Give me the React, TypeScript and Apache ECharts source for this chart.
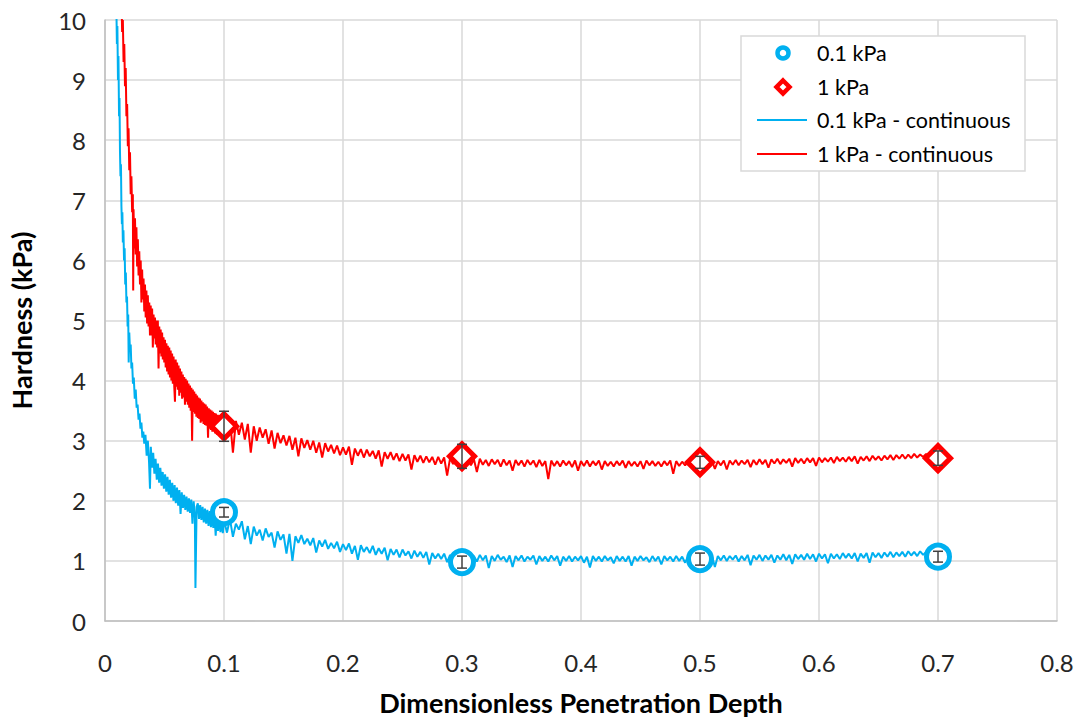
import React, { useEffect, useRef } from "react";
import * as echarts from "echarts";

const FONT = "Lato, 'Noto Sans', sans-serif";
const BLUE = "#00B0F0";
const RED = "#FF0000";

const xTickMin = 0;
const xTickMax = 0.8;
const xTickStep = 0.1;
const yTickMin = 0;
const yTickMax = 10;
const yTickStep = 1;

const markerX = [0.1, 0.3, 0.5, 0.7];
const blueMarkerY = [1.81, 0.98, 1.03, 1.07];
const blueMarkerErr = [0.08, 0.1, 0.1, 0.09];
const redMarkerY = [3.24, 2.74, 2.64, 2.71];
const redMarkerErr = [0.25, 0.2, 0.1, 0.12];

const blueContinuous: [number, number][] = [
  [0.0095, 10.3], [0.01, 9.6], [0.0104, 9.9], [0.0109, 9.0], [0.0113, 9.4], [0.0118, 8.4], [0.0122, 8.7],
  [0.0126, 7.8], [0.013, 7.4], [0.0134, 7.6], [0.0138, 6.9], [0.0142, 6.6], [0.0146, 6.8], [0.015, 6.3],
  [0.0155, 6.5], [0.016, 6.0], [0.0165, 6.2], [0.017, 5.6], [0.0175, 5.8], [0.018, 5.3], [0.0185, 5.4],
  [0.019, 4.9], [0.0195, 5.1], [0.0199, 4.3], [0.0204, 4.8], [0.021, 4.5], [0.0216, 4.6], [0.0222, 4.2],
  [0.0228, 4.3], [0.0235, 3.95], [0.0242, 4.05], [0.025, 3.7], [0.0258, 3.85], [0.0266, 3.55], [0.0274, 3.6],
  [0.0282, 3.35], [0.029, 3.45], [0.0298, 3.2], [0.0306, 3.3], [0.0314, 3.05], [0.0322, 3.15], [0.033, 2.95],
  [0.034, 3.1], [0.035, 2.75], [0.036, 3.0], [0.037, 2.65], [0.0378, 2.2], [0.0385, 2.9], [0.0395, 2.55],
  [0.0405, 2.8], [0.0415, 2.45], [0.0425, 2.7], [0.0435, 2.35], [0.0445, 2.62], [0.0455, 2.3], [0.0465, 2.55],
  [0.0475, 2.25], [0.0485, 2.48], [0.0495, 2.2], [0.0505, 2.44], [0.0515, 2.15], [0.0525, 2.4], [0.0535, 2.1],
  [0.0545, 2.35], [0.0555, 2.05], [0.0565, 2.3], [0.0575, 2.0], [0.0585, 2.26], [0.0595, 1.96], [0.0605, 2.22],
  [0.0615, 1.92], [0.0625, 2.18], [0.0635, 1.78], [0.0645, 2.14], [0.0655, 1.88], [0.0665, 2.1], [0.0675, 1.85],
  [0.0685, 2.07], [0.0695, 1.82], [0.0705, 2.04], [0.0715, 1.8], [0.0725, 2.02], [0.0735, 1.62], [0.0745, 1.99],
  [0.0755, 1.75], [0.076, 0.55], [0.077, 1.9], [0.078, 1.96], [0.079, 1.7], [0.08, 1.93], [0.081, 1.68],
  [0.082, 1.9], [0.083, 1.64], [0.084, 1.87], [0.085, 1.62], [0.086, 1.85], [0.087, 1.58], [0.088, 1.83],
  [0.089, 1.56], [0.09, 1.8], [0.091, 1.55], [0.092, 1.77], [0.093, 1.42], [0.094, 1.75], [0.095, 1.5],
  [0.096, 1.73], [0.097, 1.48], [0.098, 1.71], [0.099, 1.46],
  [0.1, 1.68], [0.1025, 1.47], [0.105, 1.7], [0.1075, 1.4], [0.11, 1.62], [0.1125, 1.52], [0.115, 1.66],
  [0.1175, 1.36], [0.12, 1.58], [0.1225, 1.28], [0.125, 1.57], [0.1275, 1.42], [0.13, 1.52], [0.1325, 1.34],
  [0.135, 1.54], [0.1375, 1.4], [0.14, 1.47], [0.1425, 1.22], [0.145, 1.49], [0.1475, 1.35], [0.15, 1.44],
  [0.1525, 1.12], [0.155, 1.45], [0.1575, 1.0], [0.16, 1.41], [0.1625, 1.3], [0.165, 1.43], [0.1675, 1.28],
  [0.17, 1.37], [0.1725, 1.26], [0.175, 1.38], [0.1775, 1.14], [0.18, 1.34], [0.1825, 1.24], [0.185, 1.35],
  [0.1875, 1.2], [0.19, 1.3], [0.1925, 1.21], [0.195, 1.32], [0.1975, 1.15], [0.2, 1.28], [0.2025, 1.18],
  [0.205, 1.29], [0.2075, 1.12], [0.21, 1.25], [0.2125, 1.02], [0.215, 1.26], [0.2175, 1.15], [0.22, 1.23],
  [0.2225, 1.13], [0.225, 1.25], [0.2275, 1.1], [0.23, 1.21], [0.2325, 1.12], [0.235, 1.22], [0.2375, 1.01],
  [0.24, 1.2], [0.2425, 1.1], [0.245, 1.19], [0.2475, 1.06], [0.25, 1.19], [0.2525, 1.09], [0.255, 1.16],
  [0.2575, 1.04], [0.26, 1.17], [0.2625, 1.07], [0.265, 1.15], [0.2675, 1.05], [0.27, 1.15], [0.2725, 0.94],
  [0.275, 1.13], [0.2775, 1.04], [0.28, 1.12], [0.2825, 1.03], [0.285, 1.12], [0.2875, 0.98], [0.29, 1.1],
  [0.2925, 0.88], [0.295, 1.11], [0.2975, 1.01], [0.3, 1.09],
  [0.3025, 1.0], [0.305, 1.1], [0.3075, 1.02], [0.31, 1.08], [0.3125, 0.99], [0.315, 1.1], [0.3175, 1.01],
  [0.32, 1.09], [0.3225, 0.88], [0.325, 1.08], [0.3275, 1.0], [0.33, 1.1], [0.3325, 1.02], [0.335, 1.07],
  [0.3375, 0.98], [0.34, 1.09], [0.3425, 0.9], [0.345, 1.08], [0.3475, 1.01], [0.35, 1.09], [0.3525, 0.99],
  [0.355, 1.07], [0.3575, 1.02], [0.36, 1.09], [0.3625, 0.94], [0.365, 1.08], [0.3675, 1.0], [0.37, 1.07],
  [0.3725, 0.99], [0.375, 1.09], [0.3775, 1.01], [0.38, 1.08], [0.3825, 0.92], [0.385, 1.07], [0.3875, 1.0],
  [0.39, 1.08], [0.3925, 0.99], [0.395, 1.07], [0.3975, 1.01], [0.4, 1.08], [0.4025, 0.97], [0.405, 1.07],
  [0.4075, 0.89], [0.41, 1.08], [0.4125, 1.0], [0.415, 1.07], [0.4175, 0.99], [0.42, 1.08], [0.4225, 1.01],
  [0.425, 1.06], [0.4275, 0.96], [0.43, 1.08], [0.4325, 1.0], [0.435, 1.07], [0.4375, 0.99], [0.44, 1.08],
  [0.4425, 0.92], [0.445, 1.07], [0.4475, 1.0], [0.45, 1.08], [0.4525, 1.01], [0.455, 1.06], [0.4575, 0.98],
  [0.46, 1.08], [0.4625, 1.0], [0.465, 1.07], [0.4675, 0.94], [0.47, 1.08], [0.4725, 1.01], [0.475, 1.07],
  [0.4775, 0.99], [0.48, 1.08], [0.4825, 1.0], [0.485, 1.07], [0.4875, 0.97], [0.49, 1.08], [0.4925, 1.01],
  [0.495, 1.07], [0.4975, 0.99], [0.5, 1.08], [0.5025, 1.0], [0.505, 1.08], [0.5075, 0.98], [0.51, 1.09],
  [0.5125, 0.9], [0.515, 1.08], [0.5175, 1.01], [0.52, 1.09], [0.5225, 1.0], [0.525, 1.08], [0.5275, 1.02],
  [0.53, 1.09], [0.5325, 0.99], [0.535, 1.08], [0.5375, 1.01], [0.54, 1.1], [0.5425, 0.93], [0.545, 1.09],
  [0.5475, 1.02], [0.55, 1.1], [0.5525, 1.0], [0.555, 1.09], [0.5575, 1.02], [0.56, 1.1], [0.5625, 0.97],
  [0.565, 1.09], [0.5675, 1.02], [0.57, 1.11], [0.5725, 1.01], [0.575, 1.1], [0.5775, 0.95], [0.58, 1.11],
  [0.5825, 1.03], [0.585, 1.1], [0.5875, 1.02], [0.59, 1.12], [0.5925, 1.03], [0.595, 1.11], [0.5975, 0.99],
  [0.6, 1.12], [0.6025, 1.04], [0.605, 1.11], [0.6075, 0.96], [0.61, 1.12], [0.6125, 1.04], [0.615, 1.11],
  [0.6175, 1.03], [0.62, 1.13], [0.6225, 1.05], [0.625, 1.12], [0.6275, 1.04], [0.63, 1.13], [0.6325, 0.99],
  [0.635, 1.12], [0.6375, 1.05], [0.64, 1.13], [0.6425, 0.97], [0.645, 1.14], [0.6475, 1.06], [0.65, 1.13],
  [0.6525, 1.05], [0.655, 1.14], [0.6575, 1.07], [0.66, 1.15], [0.6625, 1.06], [0.665, 1.14], [0.6675, 1.08],
  [0.67, 1.15], [0.6725, 1.07], [0.675, 1.16], [0.6775, 1.09], [0.68, 1.15], [0.6825, 1.08], [0.685, 1.16],
  [0.6875, 1.1], [0.69, 1.15], [0.6925, 1.11], [0.695, 1.16], [0.6975, 1.12], [0.7, 1.14],
];

const redContinuous: [number, number][] = [
  [0.0138, 10.4], [0.0144, 9.8], [0.015, 10.0], [0.0156, 9.3], [0.0162, 9.6], [0.0168, 8.9], [0.0174, 9.2],
  [0.018, 8.4], [0.0186, 8.6], [0.0192, 7.9], [0.0198, 8.2], [0.0204, 7.5], [0.021, 7.8], [0.0216, 7.1],
  [0.0222, 7.4], [0.0228, 6.8], [0.0234, 7.1], [0.0237, 5.5],
  [0.024, 6.85], [0.0246, 6.2], [0.0252, 6.7], [0.0258, 6.1], [0.0264, 6.55], [0.027, 5.9], [0.0276, 6.35],
  [0.0282, 5.75], [0.0288, 6.15], [0.0294, 5.6], [0.03, 6.0], [0.0306, 5.3], [0.0312, 5.85], [0.0318, 5.35],
  [0.0324, 5.7], [0.033, 5.15], [0.0336, 5.6], [0.0342, 5.05], [0.0348, 5.5], [0.0354, 4.95], [0.036, 5.42],
  [0.0366, 4.9], [0.0372, 5.3], [0.0378, 4.75], [0.0384, 5.25], [0.039, 4.75], [0.0396, 5.2], [0.0402, 4.55],
  [0.0408, 5.1], [0.0414, 4.7], [0.042, 5.05], [0.0426, 4.6], [0.0432, 5.0], [0.0438, 4.55], [0.0444, 5.0],
  [0.045, 4.2], [0.0456, 4.9], [0.0462, 4.45], [0.0468, 4.85], [0.0474, 4.4], [0.048, 4.8], [0.0486, 4.35],
  [0.0492, 4.72], [0.0498, 4.3], [0.0504, 4.68], [0.051, 4.22], [0.0516, 4.62], [0.0522, 4.15], [0.0528, 4.58],
  [0.0534, 4.1], [0.054, 4.55], [0.0546, 4.05], [0.0552, 4.5], [0.0558, 4.0], [0.0564, 4.45], [0.057, 3.95],
  [0.0576, 4.4], [0.0582, 3.9], [0.0588, 3.65], [0.0594, 4.35], [0.06, 3.9], [0.0606, 4.3], [0.0612, 3.85],
  [0.0618, 4.25], [0.0624, 3.75], [0.063, 4.2], [0.0636, 3.8], [0.0642, 4.15], [0.0648, 3.7], [0.0654, 4.1],
  [0.066, 3.72], [0.0666, 4.06], [0.0672, 3.6], [0.0678, 4.03], [0.0684, 3.65], [0.069, 4.0], [0.0696, 3.6],
  [0.0702, 3.95], [0.0708, 3.55], [0.0714, 3.92], [0.072, 3.5], [0.0726, 3.88], [0.0732, 3.0], [0.0738, 3.85],
  [0.0744, 3.48], [0.075, 3.82], [0.0756, 3.45], [0.0762, 3.78], [0.0768, 3.4], [0.0774, 3.75], [0.078, 3.38],
  [0.0786, 3.72], [0.0792, 3.36], [0.0798, 3.7], [0.0804, 3.3], [0.081, 3.67], [0.0816, 3.32], [0.0822, 3.64],
  [0.0828, 3.28], [0.0834, 3.62], [0.084, 3.26], [0.0846, 3.6], [0.0852, 3.25], [0.0858, 3.57], [0.0866, 3.05],
  [0.0872, 3.54], [0.0878, 3.2], [0.0884, 3.52], [0.089, 3.18], [0.0896, 3.5], [0.0902, 3.15], [0.0908, 3.48],
  [0.0914, 3.16], [0.092, 3.46], [0.0926, 3.12], [0.0932, 3.45], [0.094, 3.1], [0.0948, 3.43], [0.0956, 3.12],
  [0.0964, 3.42], [0.0972, 3.08], [0.098, 3.4], [0.0988, 3.1], [0.0996, 3.39],
  [0.1, 3.38], [0.1025, 3.08], [0.105, 3.36], [0.1075, 2.8], [0.11, 3.33], [0.1125, 3.1], [0.115, 3.3],
  [0.1175, 3.02], [0.12, 3.28], [0.1225, 2.8], [0.125, 3.24], [0.1275, 3.0], [0.13, 3.22], [0.1325, 3.05],
  [0.135, 3.19], [0.1375, 2.95], [0.14, 3.17], [0.1425, 2.87], [0.145, 3.13], [0.1475, 2.96], [0.15, 3.09],
  [0.1525, 2.92], [0.155, 3.08], [0.1575, 2.85], [0.16, 3.05], [0.1625, 2.74], [0.165, 3.04], [0.1675, 2.88],
  [0.17, 3.01], [0.1725, 2.85], [0.175, 3.0], [0.1775, 2.8], [0.18, 2.97], [0.1825, 2.72], [0.185, 2.96],
  [0.1875, 2.82], [0.19, 2.93], [0.1925, 2.79], [0.195, 2.92], [0.1975, 2.76], [0.2, 2.89], [0.2025, 2.77],
  [0.205, 2.9], [0.2075, 2.6], [0.21, 2.87], [0.2125, 2.75], [0.215, 2.86], [0.2175, 2.72], [0.22, 2.85],
  [0.2225, 2.74], [0.225, 2.83], [0.2275, 2.7], [0.23, 2.84], [0.2325, 2.57], [0.235, 2.81], [0.2375, 2.7],
  [0.24, 2.81], [0.2425, 2.68], [0.245, 2.79], [0.2475, 2.66], [0.25, 2.78], [0.2525, 2.67], [0.255, 2.77],
  [0.2575, 2.52], [0.26, 2.76], [0.2625, 2.65], [0.265, 2.75], [0.2675, 2.63], [0.27, 2.74], [0.2725, 2.64],
  [0.275, 2.73], [0.2775, 2.6], [0.28, 2.73], [0.2825, 2.62], [0.285, 2.72], [0.2875, 2.42], [0.29, 2.71],
  [0.2925, 2.61], [0.295, 2.72], [0.2975, 2.59], [0.3, 2.71],
  [0.3025, 2.61], [0.305, 2.7], [0.3075, 2.59], [0.31, 2.69], [0.3125, 2.48], [0.315, 2.7], [0.3175, 2.6],
  [0.32, 2.68], [0.3225, 2.58], [0.325, 2.69], [0.3275, 2.61], [0.33, 2.68], [0.3325, 2.57], [0.335, 2.69],
  [0.3375, 2.59], [0.34, 2.67], [0.3425, 2.5], [0.345, 2.68], [0.3475, 2.59], [0.35, 2.67], [0.3525, 2.57],
  [0.355, 2.68], [0.3575, 2.6], [0.36, 2.67], [0.3625, 2.56], [0.365, 2.68], [0.3675, 2.58], [0.37, 2.66],
  [0.3725, 2.36], [0.375, 2.67], [0.3775, 2.58], [0.38, 2.66], [0.3825, 2.57], [0.385, 2.67], [0.3875, 2.59],
  [0.39, 2.66], [0.3925, 2.56], [0.395, 2.67], [0.3975, 2.5], [0.4, 2.66], [0.4025, 2.58], [0.405, 2.67],
  [0.4075, 2.57], [0.41, 2.66], [0.4125, 2.59], [0.415, 2.67], [0.4175, 2.52], [0.42, 2.66], [0.4225, 2.58],
  [0.425, 2.65], [0.4275, 2.57], [0.43, 2.66], [0.4325, 2.59], [0.435, 2.67], [0.4375, 2.55], [0.44, 2.66],
  [0.4425, 2.58], [0.445, 2.65], [0.4475, 2.57], [0.45, 2.66], [0.4525, 2.53], [0.455, 2.67], [0.4575, 2.59],
  [0.46, 2.66], [0.4625, 2.58], [0.465, 2.65], [0.4675, 2.57], [0.47, 2.66], [0.4725, 2.59], [0.475, 2.67],
  [0.4775, 2.45], [0.48, 2.66], [0.4825, 2.58], [0.485, 2.65], [0.4875, 2.59], [0.49, 2.66], [0.4925, 2.57],
  [0.495, 2.67], [0.4975, 2.59], [0.5, 2.66], [0.5025, 2.58], [0.505, 2.66], [0.5075, 2.6], [0.51, 2.67],
  [0.5125, 2.53], [0.515, 2.66], [0.5175, 2.59], [0.52, 2.67], [0.5225, 2.52], [0.525, 2.67], [0.5275, 2.6],
  [0.53, 2.68], [0.5325, 2.59], [0.535, 2.67], [0.5375, 2.61], [0.54, 2.68], [0.5425, 2.56], [0.545, 2.68],
  [0.5475, 2.6], [0.55, 2.69], [0.5525, 2.61], [0.555, 2.68], [0.5575, 2.55], [0.56, 2.69], [0.5625, 2.62],
  [0.565, 2.7], [0.5675, 2.61], [0.57, 2.69], [0.5725, 2.63], [0.575, 2.7], [0.5775, 2.57], [0.58, 2.71],
  [0.5825, 2.63], [0.585, 2.7], [0.5875, 2.62], [0.59, 2.71], [0.5925, 2.64], [0.595, 2.71], [0.5975, 2.58],
  [0.6, 2.72], [0.6025, 2.64], [0.605, 2.71], [0.6075, 2.65], [0.61, 2.72], [0.6125, 2.63], [0.615, 2.73],
  [0.6175, 2.66], [0.62, 2.72], [0.6225, 2.65], [0.625, 2.73], [0.6275, 2.66], [0.63, 2.74], [0.6325, 2.62],
  [0.635, 2.73], [0.6375, 2.67], [0.64, 2.74], [0.6425, 2.66], [0.645, 2.75], [0.6475, 2.68], [0.65, 2.74],
  [0.6525, 2.67], [0.655, 2.75], [0.6575, 2.69], [0.66, 2.76], [0.6625, 2.68], [0.665, 2.76], [0.6675, 2.7],
  [0.67, 2.77], [0.6725, 2.7], [0.675, 2.77], [0.6775, 2.71], [0.68, 2.78], [0.6825, 2.72], [0.685, 2.77],
  [0.6875, 2.73], [0.69, 2.78], [0.6925, 2.72], [0.695, 2.79], [0.6975, 2.74], [0.7, 2.79],
];

const legendNames = ["0.1 kPa", "1 kPa", "0.1 kPa - continuous", "1 kPa - continuous"];
const xTitle = "Dimensionless Penetration Depth";
const yTitle = "Hardness (kPa)";

function errorBarSeries(name: string, ys: number[], errs: number[]) {
  return {
    type: "custom",
    name,
    silent: true,
    z: 10,
    encode: { x: 0, y: 1 },
    data: markerX.map((x, i) => [x, ys[i], errs[i]]),
    renderItem: (_p: any, api: any) => {
      const x = api.value(0);
      const y = api.value(1);
      const e = api.value(2);
      const top = api.coord([x, y + e]);
      const bot = api.coord([x, y - e]);
      const cap = 5;
      const st = { stroke: "#404040", lineWidth: 1.5 };
      return {
        type: "group",
        children: [
          { type: "line", shape: { x1: top[0], y1: top[1], x2: bot[0], y2: bot[1] }, style: st },
          { type: "line", shape: { x1: top[0] - cap, y1: top[1], x2: top[0] + cap, y2: top[1] }, style: st },
          { type: "line", shape: { x1: bot[0] - cap, y1: bot[1], x2: bot[0] + cap, y2: bot[1] }, style: st },
        ],
      };
    },
  };
}

function legendGraphics() {
  const rows = [53, 87, 120, 154];
  const iconX = 783;
  const textStyle = (text: string) => ({
    text,
    fontFamily: FONT,
    fontSize: 21.5,
    fill: "#000",
    verticalAlign: "middle",
    align: "left",
  });
  return [
    {
      type: "rect",
      z: 50,
      shape: { x: 741, y: 36, width: 284, height: 135 },
      style: { fill: "#fff", stroke: "#d9d9d9", lineWidth: 1.5 },
    },
    {
      type: "circle",
      z: 51,
      shape: { cx: iconX, cy: rows[0], r: 5.5 },
      style: { fill: "#fff", stroke: BLUE, lineWidth: 4.5 },
    },
    {
      type: "polygon",
      z: 51,
      shape: { points: [[iconX, rows[1] - 6.5], [iconX + 6.5, rows[1]], [iconX, rows[1] + 6.5], [iconX - 6.5, rows[1]]] },
      style: { fill: "#fff", stroke: RED, lineWidth: 4.5 },
    },
    {
      type: "line",
      z: 51,
      shape: { x1: 757, y1: rows[2], x2: 807, y2: rows[2] },
      style: { stroke: BLUE, lineWidth: 2 },
    },
    {
      type: "line",
      z: 51,
      shape: { x1: 757, y1: rows[3], x2: 807, y2: rows[3] },
      style: { stroke: RED, lineWidth: 2 },
    },
    ...legendNames.map((n, i) => ({ type: "text", z: 52, x: 817, y: rows[i], style: textStyle(n) })),
  ];
}

export default function App() {
  const ref = useRef<HTMLDivElement>(null);
  useEffect(() => {
    if (!ref.current) return;
    const chart = echarts.init(ref.current, null, { renderer: "svg" });
    const fmt = (v: number) => String(parseFloat(Number(v).toFixed(2)));
    chart.setOption({
      animation: false,
      backgroundColor: "#fff",
      grid: { left: 105, right: 31, top: 20, bottom: 99 },
      xAxis: {
        type: "value",
        min: xTickMin,
        max: xTickMax,
        interval: xTickStep,
        name: xTitle,
        nameLocation: "middle",
        nameGap: 68,
        nameTextStyle: { fontFamily: FONT, fontSize: 27, fontWeight: "bold", color: "#000" },
        axisLine: { show: true, onZero: false, lineStyle: { color: "#bfbfbf", width: 1.5 } },
        axisTick: { show: false },
        axisLabel: { fontFamily: FONT, fontSize: 24, color: "#262626", margin: 29, formatter: fmt },
        splitLine: { show: true, lineStyle: { color: "#d9d9d9", width: 1.5 } },
      },
      yAxis: {
        type: "value",
        min: yTickMin,
        max: yTickMax,
        interval: yTickStep,
        name: yTitle,
        nameLocation: "middle",
        nameGap: 70,
        nameTextStyle: { fontFamily: FONT, fontSize: 27, fontWeight: "bold", color: "#000" },
        axisLine: { show: true, onZero: false, lineStyle: { color: "#bfbfbf", width: 1.5 } },
        axisTick: { show: false },
        axisLabel: { fontFamily: FONT, fontSize: 24, color: "#262626", margin: 19, formatter: fmt },
        splitLine: { show: true, lineStyle: { color: "#d9d9d9", width: 1.5 } },
      },
      graphic: legendGraphics(),
      series: [
        {
          type: "line",
          name: legendNames[2],
          data: blueContinuous,
          showSymbol: false,
          symbol: "none",
          z: 2,
          lineStyle: { color: BLUE, width: 2 },
          itemStyle: { color: BLUE },
        },
        {
          type: "line",
          name: legendNames[3],
          data: redContinuous,
          showSymbol: false,
          symbol: "none",
          z: 2,
          lineStyle: { color: RED, width: 2 },
          itemStyle: { color: RED },
        },
        {
          type: "scatter",
          name: legendNames[0],
          data: markerX.map((x, i) => [x, blueMarkerY[i]]),
          symbol: "circle",
          symbolSize: 23,
          z: 5,
          itemStyle: { color: "#fff", borderColor: BLUE, borderWidth: 5, opacity: 1 },
        },
        {
          type: "scatter",
          name: legendNames[1],
          data: markerX.map((x, i) => [x, redMarkerY[i]]),
          symbol: "diamond",
          symbolSize: 25,
          z: 5,
          itemStyle: { color: "#fff", borderColor: RED, borderWidth: 5, opacity: 1 },
        },
        errorBarSeries("err-0.1", blueMarkerY, blueMarkerErr),
        errorBarSeries("err-1", redMarkerY, redMarkerErr),
      ],
    });
    return () => chart.dispose();
  }, []);
  return (
    <div
      ref={ref}
      style={{ position: "fixed", left: 0, top: 0, width: 1088, height: 721, background: "#fff" }}
    />
  );
}
